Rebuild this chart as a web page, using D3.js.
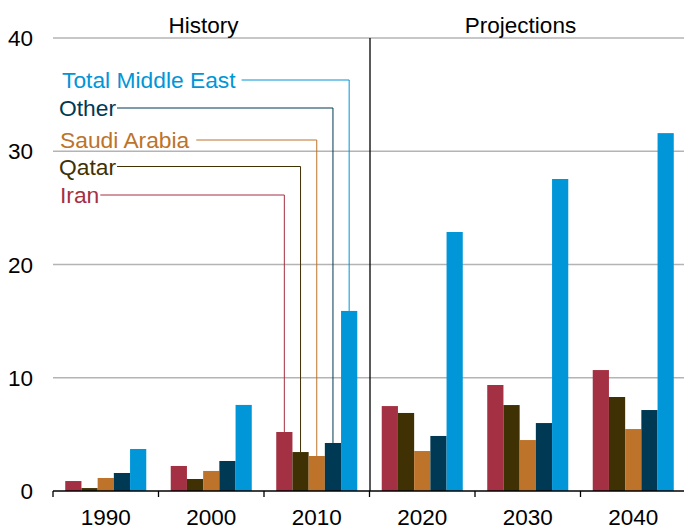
<!DOCTYPE html>
<html><head><meta charset="utf-8">
<script src="https://cdn.jsdelivr.net/npm/d3@7"></script>
<style>body{margin:0;background:#fff}svg{display:block}text{font-family:Arial,"Liberation Sans",sans-serif}</style>
</head><body><svg id="c" width="684" height="529"></svg>
<script>
const years = ["1990","2000","2010","2020","2030","2040"];
const seriesNames = ["Iran","Qatar","Saudi Arabia","Other","Total Middle East"];
const iran   = [0.88, 2.21, 5.21, 7.5, 9.36, 10.68];
const qatar  = [0.26, 1.06, 3.44, 6.89, 7.59, 8.3];
const saudi  = [1.15, 1.77, 3.09, 3.53, 4.5, 5.47];
const other  = [1.59, 2.65, 4.24, 4.86, 6.0, 7.15];
const total  = [3.71, 7.6, 15.9, 22.87, 27.55, 31.6];
const yTicks = [0, 10, 20, 30, 40];
const colors = ["#A33143", "#3F3104", "#BD732A", "#003953", "#0096D7"];
const seriesValues = [iran, qatar, saudi, other, total];

const svg = d3.select("#c");
const pLeft = 53, pRight = 686, pTop = 38, pBottom = 491;
const x0 = d3.scaleBand().domain(years).range([pLeft, pRight]).paddingInner(0.232).paddingOuter(0.116);
const x1 = d3.scaleBand().domain(seriesNames).range([0, x0.bandwidth()]);
const y = d3.scaleLinear().domain([0, 40]).range([pBottom, pTop]);

// gridlines
svg.append("g").selectAll("line").data(yTicks.filter(d => d > 0)).join("line")
  .attr("x1", pLeft).attr("x2", 684).attr("y1", d => y(d)).attr("y2", d => y(d))
  .attr("stroke", "#b4b4b4").attr("stroke-width", 1.3);

// y labels
svg.append("g").selectAll("text").data(yTicks).join("text")
  .attr("x", 33).attr("y", d => y(d) + 8).attr("text-anchor", "end")
  .attr("font-size", 22.5).attr("fill", "#000").text(d => d);

// bars
const data = [];
years.forEach((yr, i) => seriesNames.forEach((s, j) => data.push({yr, s, j, v: seriesValues[j][i]})));
svg.append("g").selectAll("rect").data(data).join("rect")
  .attr("x", d => x0(d.yr) + x1(d.s)).attr("width", x1.bandwidth())
  .attr("y", d => y(d.v)).attr("height", d => y(0) - y(d.v))
  .attr("fill", d => colors[d.j]);

// x axis
const xAxis = svg.append("g").attr("transform", `translate(0,${pBottom})`);
xAxis.append("line").attr("x1", pLeft).attr("x2", 684).attr("stroke", "#000").attr("stroke-width", 1.3);
const boundaries = years.map(yr => x0(yr) - x0.step() * x0.paddingInner() / 2);
xAxis.selectAll("line.t").data(boundaries).join("line").attr("class", "t")
  .attr("x1", d => d).attr("x2", d => d).attr("y1", 0).attr("y2", 6)
  .attr("stroke", "#000").attr("stroke-width", 1.3);
xAxis.selectAll("text").data(years).join("text")
  .attr("x", d => x0(d) + x0.bandwidth() / 2).attr("y", 33.5)
  .attr("text-anchor", "middle").attr("font-size", 22.5).text(d => d);

// divider
const divX = x0("2020") - x0.step() * x0.paddingInner() / 2 + 0.5;
svg.append("line").attr("x1", divX).attr("x2", divX).attr("y1", pTop).attr("y2", pBottom)
  .attr("stroke", "#000").attr("stroke-width", 1.3);

// section headers
svg.append("text").attr("x", 203.5).attr("y", 33).attr("text-anchor", "middle").attr("font-size", 22.5).text("History");
svg.append("text").attr("x", 520.5).attr("y", 33).attr("text-anchor", "middle").attr("font-size", 22.5).text("Projections");

// labels with leader lines
const labelY = [195, 166.5, 140, 108, 80];
const labelX = [60, 59, 60, 59, 62];
const gaps = [1, 1, 7, 1, 6];
seriesNames.forEach((s, j) => {
  const t = svg.append("text").attr("x", labelX[j]).attr("y", labelY[j] + 8)
    .attr("font-size", 22.8).attr("fill", colors[j]).text(s);
  const tl = t.node().getComputedTextLength();
  const bx = x0("2010") + x1(s) + x1.bandwidth() / 2;
  svg.append("path")
    .attr("d", `M${labelX[j] + tl + gaps[j]},${labelY[j]}H${bx}V${y(seriesValues[j][2])}`)
    .attr("fill", "none").attr("stroke", colors[j]).attr("stroke-width", 1);
});
</script></body></html>
